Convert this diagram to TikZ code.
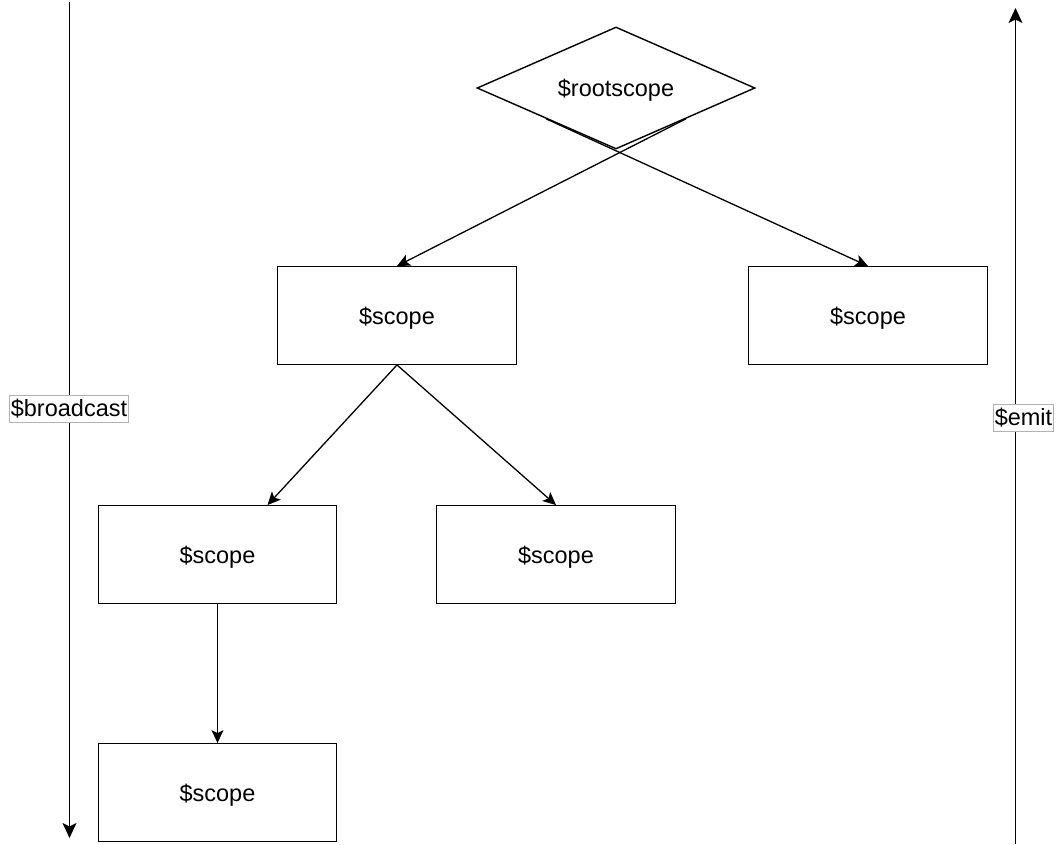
\documentclass[tikz,border=0pt]{standalone}
\usepackage{fontspec}
\setmainfont{Liberation Sans}
\usetikzlibrary{shapes.geometric,arrows.meta}
\begin{document}
\begin{tikzpicture}[x=1pt,y=-1pt,
  font=\fontsize{23.5}{28}\selectfont,
  scopebox/.style={draw, line width=1.4pt, minimum width=238.5pt,
    minimum height=97.5pt, inner sep=0pt, text depth=-3pt},
  rootbox/.style={draw, diamond, aspect=2.28, line width=1.4pt,
    minimum width=278pt, minimum height=122pt, inner sep=0pt, text depth=-2pt},
  link/.style={line width=1.3pt, -{Stealth[length=13pt,width=12pt,inset=3pt]}},
  axis/.style={line width=1.3pt, -{Stealth[length=15pt,width=14pt,inset=3.5pt]}},
  tag/.style={draw=black!30, line width=0.8pt, fill=white, inner xsep=1pt,
    inner ysep=0pt, minimum height=27pt}]
  \useasboundingbox (0,0) rectangle (1061,844);

  % scope hierarchy
  \node[rootbox]  (root) at (616,88)      {\$rootscope};
  \node[scopebox] (a)    at (397,315.5)   {\$scope};
  \node[scopebox] (b)    at (868,315.5)   {\$scope};
  \node[scopebox] (c)    at (217.5,554.5) {\$scope};
  \node[scopebox] (d)    at (556,554.5)   {\$scope};
  \node[scopebox] (e)    at (217.5,792.5) {\$scope};

  \draw[link] (root.south east) -- (a.north);
  \draw[link] (root.south west) -- (b.north);
  \draw[link] (a.south) -- ([xshift=50pt]c.north);
  \draw[link] (a.south) -- (d.north);
  \draw[link] (c.south) -- (e.north);

  % event propagation directions
  \coordinate (btop) at (69.5,2);
  \coordinate (bbot) at (69.5,838);
  \coordinate (ebot) at (1015.5,844);
  \coordinate (etop) at (1015.5,8);
  \draw[axis] (btop) -- (bbot);
  \draw[axis] (ebot) -- (etop);
  \node[tag] (bcast) at (69,408.5)  {\$broadcast};
  \node[tag] (emit)  at (1023.5,418) {\$emit};
\end{tikzpicture}
\end{document}
